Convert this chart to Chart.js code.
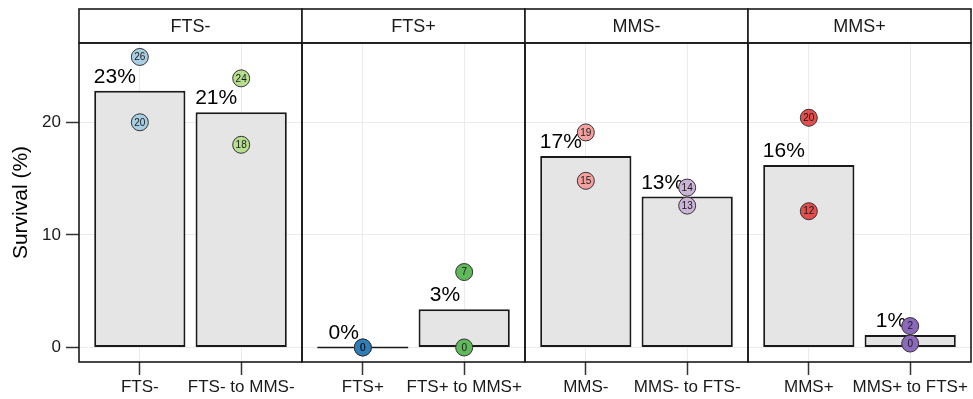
<!DOCTYPE html>
<html>
<head>
<meta charset="utf-8">
<script src="https://cdn.jsdelivr.net/npm/chart.js"></script>
<style>
  html, body { margin: 0; padding: 0; background: #fff; overflow: hidden; }
  canvas { display: block; }
</style>
</head>
<body>
<canvas id="survChart" width="973" height="399"></canvas>
<script>
  // facet strips and the two groups in each
  const facets = ["FTS-", "FTS+", "MMS-", "MMS+"];
  const categories = ["FTS-", "FTS- to MMS-", "FTS+", "FTS+ to MMS+",
                      "MMS-", "MMS- to FTS-", "MMS+", "MMS+ to FTS+"];

  // bar heights (survival %) and the labels printed above them
  const barValues = [22.8, 20.9, 0, 3.4, 17.0, 13.4, 16.2, 1.1];
  const pctLabels = ["23%", "21%", "0%", "3%", "17%", "13%", "16%", "1%"];

  // the two replicate points per group, with their printed labels
  const upperPoints = [25.8, 23.9, 0, 6.7, 19.1, 14.2, 20.4, 1.9];
  const lowerPoints = [20.0, 18.0, 0, 0, 14.8, 12.6, 12.1, 0.35];
  const upperLabels = ["26", "24", "0", "7", "19", "14", "20", "2"];
  const lowerLabels = ["20", "18", "0", "0", "15", "13", "12", "0"];

  const yTicks = [0, 10, 20];
  const pointColors = ["#a9cfe5", "#b5de8e", "#2e7ebc", "#5fb85a",
                       "#f3a09f", "#cbb4d7", "#e34d4b", "#8b68bb"];

  // discrete positions: each facet spans 2.2 units (ggplot default expansion)
  const FACET_W = 2.2;
  const xOf = i => Math.floor(i / 2) * FACET_W + 1 + (i % 2);
  const facetEdge = k => 0.4 + k * FACET_W;

  const barData = barValues.map((v, i) => ({ x: xOf(i), y: v }));
  const pointData = [], pointLabels = [], pointFill = [];
  categories.forEach((c, i) => {
    pointData.push({ x: xOf(i), y: upperPoints[i] });
    pointLabels.push(upperLabels[i]);
    pointFill.push(pointColors[i]);
    pointData.push({ x: xOf(i), y: lowerPoints[i] });
    pointLabels.push(lowerLabels[i]);
    pointFill.push(pointColors[i]);
  });

  const FONT = "'Liberation Sans', Arial, sans-serif";

  const facetPlugin = {
    id: "facetPlugin",
    afterDatasetDraw(chart, args) {
      const { ctx, scales: { x, y } } = chart;
      if (args.index === 1) {
        // percent labels over the bars
        ctx.save();
        ctx.font = "21px " + FONT;
        ctx.fillStyle = "#000";
        ctx.textAlign = "right";
        ctx.textBaseline = "alphabetic";
        barValues.forEach((v, i) => {
          ctx.fillText(pctLabels[i], x.getPixelForValue(xOf(i)) - 4, y.getPixelForValue(v) - 8);
        });
        ctx.restore();
      }
      if (args.index === 0) {
        // counts printed inside the points
        const meta = chart.getDatasetMeta(0);
        ctx.save();
        ctx.font = "10px " + FONT;
        ctx.fillStyle = "#1a1a1a";
        ctx.textAlign = "center";
        ctx.textBaseline = "middle";
        meta.data.forEach((pt, j) => ctx.fillText(pointLabels[j], pt.x, pt.y + 0.5));
        ctx.restore();
      }
    },
    afterDraw(chart) {
      const { ctx, chartArea: a, scales: { x } } = chart;
      const stripTop = 9;
      ctx.save();
      ctx.lineWidth = 1.6;
      ctx.strokeStyle = "#1a1a1a";
      facets.forEach((f, k) => {
        const x0 = x.getPixelForValue(facetEdge(k));
        const x1 = x.getPixelForValue(facetEdge(k + 1));
        ctx.fillStyle = "#fff";
        ctx.fillRect(x0, stripTop, x1 - x0, a.top - stripTop);
        ctx.strokeRect(x0, stripTop, x1 - x0, a.top - stripTop);
        ctx.strokeRect(x0, a.top, x1 - x0, a.bottom - a.top);
        ctx.fillStyle = "#1a1a1a";
        ctx.font = "18px " + FONT;
        ctx.textAlign = "center";
        ctx.textBaseline = "middle";
        ctx.fillText(f, (x0 + x1) / 2, (stripTop + a.top) / 2 + 1);
      });
      ctx.restore();
    }
  };

  new Chart(document.getElementById("survChart"), {
    type: "bar",
    data: {
      datasets: [
        {
          type: "scatter",
          data: pointData,
          pointRadius: 8.5,
          pointHoverRadius: 8.5,
          pointBackgroundColor: pointFill,
          pointBorderColor: "#333",
          pointBorderWidth: 1,
          clip: false,
          order: 1
        },
        {
          type: "bar",
          data: barData,
          backgroundColor: "#e5e5e5",
          borderColor: "#1a1a1a",
          borderWidth: 2,
          borderSkipped: false,
          minBarLength: 2,
          categoryPercentage: 0.9,
          barPercentage: 1.0,
          order: 2
        }
      ]
    },
    options: {
      responsive: false,
      animation: false,
      layout: { autoPadding: false, padding: { top: 43, right: 2, left: 0, bottom: 0 } },
      plugins: { legend: { display: false }, tooltip: { enabled: false } },
      scales: {
        x: {
          type: "linear",
          min: facetEdge(0),
          max: facetEdge(facets.length),
          offset: false,
          afterBuildTicks: s => { s.ticks = categories.map((c, i) => ({ value: xOf(i) })); },
          afterFit: s => { s.height = 37; s.paddingLeft = 0; s.paddingRight = 0; },
          ticks: {
            autoSkip: false,
            maxRotation: 0,
            padding: 2,
            color: "#1a1a1a",
            font: { family: FONT, size: 17 },
            callback: (v, i) => categories[i]
          },
          grid: { offset: false, color: "#ebebeb", lineWidth: 1, tickLength: 13, tickColor: "#333", tickWidth: 1.5 },
          border: { display: false }
        },
        y: {
          type: "linear",
          min: -1.29,
          max: 27.04,
          afterBuildTicks: s => { s.ticks = yTicks.map(v => ({ value: v })); },
          afterFit: s => { s.width = 79; s.paddingTop = 0; s.paddingBottom = 0; },
          ticks: {
            padding: 5,
            color: "#1a1a1a",
            font: { family: FONT, size: 17 }
          },
          grid: { color: "#ebebeb", lineWidth: 1, tickLength: 13, tickColor: "#333", tickWidth: 1.5 },
          border: { display: false },
          title: {
            display: true,
            text: "Survival (%)",
            color: "#000",
            font: { family: FONT, size: 21 },
            padding: { top: 9, bottom: 0 }
          }
        }
      }
    },
    plugins: [facetPlugin]
  });
</script>
</body>
</html>
